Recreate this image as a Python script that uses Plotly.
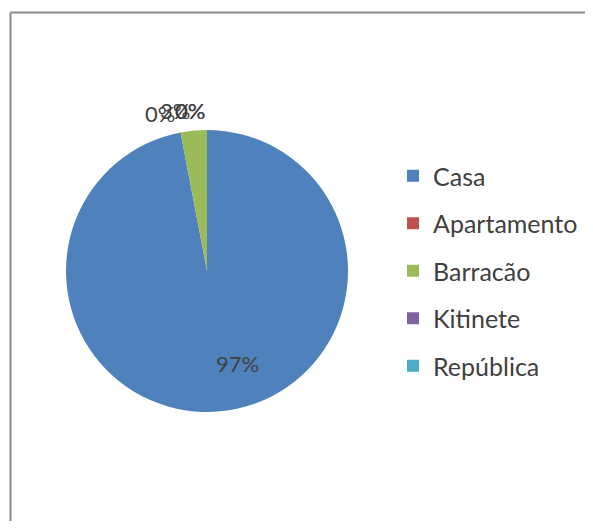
import math
import plotly.graph_objects as go

# Tipo de moradia (%)
labels = ['Casa', 'Apartamento', 'Barracão', 'Kitinete', 'República']
values = [97, 0, 3, 0, 0]
colors = ['#4F81BD', '#C0504D', '#9BBB59', '#8064A2', '#4BACC6']

# page has an 8px body margin, so the figure is drawn smaller and offset
OFF = 8
W, H = 593 - 2 * OFF, 529 - 2 * OFF
cx, cy, r = 207 - OFF, 271 - OFF, 141

fig = go.Figure()

fig.add_trace(go.Pie(
    labels=labels,
    values=values,
    sort=False,
    direction='clockwise',
    rotation=0,
    textinfo='none',
    hoverinfo='label+percent',
    marker=dict(colors=colors, line=dict(width=0)),
    domain=dict(x=[(cx - r) / W, (cx + r) / W], y=[1 - (cy + r) / H, 1 - (cy - r) / H]),
    showlegend=False,
))

# legend entries as separate traces so the spacing can be set
for lab, col in zip(labels, colors):
    fig.add_trace(go.Scatter(
        x=[None], y=[None], mode='markers', name=lab, legendgroup=lab,
        marker=dict(symbol='square', size=12, color=col),
    ))

# percentage labels, placed by slice angle
total = sum(values)
start = 0.0
for v in values:
    pct = v / total
    mid = (start + pct / 2) * 2 * math.pi
    start += pct
    big = pct > 0.5
    k = 0.66 if big else 1.14
    x = cx + math.sin(mid) * r * k + (22 if big else 0)
    y = cy - math.cos(mid) * r * k
    fig.add_annotation(
        x=x / W, y=1 - y / H, xref='paper', yref='paper',
        xanchor='center' if big else 'right', yanchor='middle',
        text=f'{round(pct * 100)}%', showarrow=False,
        font=dict(family='Lato', size=22, color='#404040'),
    )

fig.update_layout(
    width=W, height=H,
    margin=dict(l=0, r=0, t=0, b=0),
    paper_bgcolor='white', plot_bgcolor='white',
    xaxis=dict(visible=False), yaxis=dict(visible=False),
    legend=dict(
        x=385 / W, y=1 - 145 / H, xanchor='left', yanchor='top',
        font=dict(family='Lato', size=25, color='#404040'),
        tracegroupgap=12, itemwidth=30,
    ),
    shapes=[
        dict(type='line', xref='paper', yref='paper',
             x0=2.5 / W, x1=1, y0=1 - 4.5 / H, y1=1 - 4.5 / H,
             line=dict(color='#8c8c8c', width=2)),
        dict(type='line', xref='paper', yref='paper',
             x0=2.5 / W, x1=2.5 / W, y0=0, y1=1 - 4.5 / H,
             line=dict(color='#8c8c8c', width=2)),
    ],
)

fig.write_html('out.html')
